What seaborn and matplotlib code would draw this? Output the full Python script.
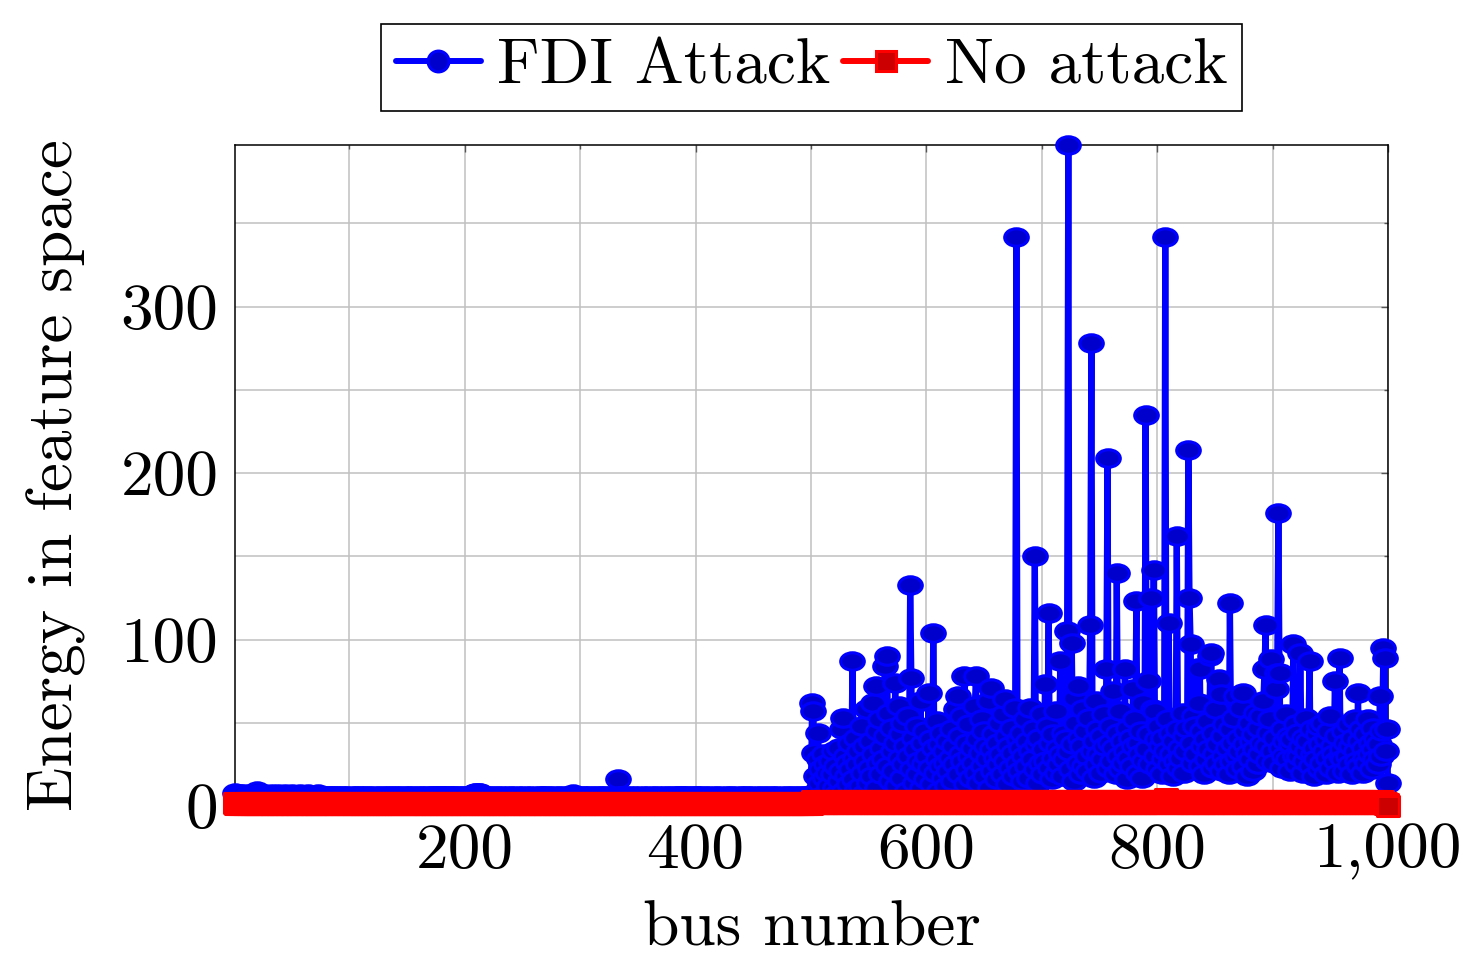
import matplotlib
matplotlib.use("Agg")
import matplotlib.pyplot as plt
import seaborn as sns
import pandas as pd
from matplotlib.path import Path
from matplotlib.transforms import Affine2D
from matplotlib.ticker import MultipleLocator, FuncFormatter
from matplotlib.lines import Line2D

# ---------------- data ----------------
# FDI attack energy, buses 1..500
fdi_low = [
    8,7,6,5,7,6,5,6,7,5,6,5,6,7,6,5,6,7,8,9,
    7,6,5,6,5,6,7,6,5,6,6,5,7,6,5,6,6,7,5,6,
    6,5,6,7,6,5,6,6,5,7,6,5,6,5,6,6,7,5,6,5,
    6,6,5,7,6,5,6,5,6,6,5,6,7,6,5,6,5,6,6,5,
    5,6,6,5,6,5,6,5,6,5,6,5,5,6,5,6,5,6,5,5,
    5,6,5,5,6,5,6,5,6,5,5,6,5,6,5,5,6,5,6,5,
    5,5,6,5,5,6,5,5,6,5,5,6,5,6,5,5,6,5,5,6,
    5,6,5,5,6,5,5,6,5,5,6,5,6,5,5,6,5,5,6,5,
    5,6,5,6,5,5,6,5,5,6,5,6,6,5,6,5,6,6,5,6,
    6,5,6,6,5,6,5,6,5,6,6,5,5,6,5,6,5,5,6,5,
    6,5,6,5,6,6,7,7,8,8,7,8,8,7,6,6,5,6,5,5,
    6,5,5,6,5,5,6,5,5,6,5,5,6,5,5,5,6,5,5,6,
    5,5,6,5,5,5,6,5,5,6,5,5,5,6,5,5,6,5,5,5,
    6,5,5,6,5,5,6,6,5,6,5,5,6,5,6,5,5,5,6,5,
    5,6,5,5,6,5,5,5,6,5,6,6,5,7,6,5,6,5,5,6,
    5,5,6,5,6,5,5,6,5,5,6,5,5,6,5,5,6,5,6,5,
    5,6,5,5,6,5,5,6,5,6,6,6,16,6,6,5,5,6,5,5,
    6,5,5,6,5,5,5,6,5,5,6,5,5,5,6,5,5,6,5,5,
    5,6,5,5,6,5,5,6,5,5,5,6,5,5,6,5,5,6,5,5,
    6,5,5,6,6,5,6,5,6,6,5,6,5,5,6,5,6,5,5,6,
    6,5,6,5,5,6,5,5,6,5,5,6,5,5,5,6,5,5,6,5,
    5,6,5,5,5,6,5,5,6,5,5,6,5,5,6,5,5,5,6,5,
    6,5,5,6,5,6,5,5,6,5,5,5,6,5,5,6,5,5,6,5,
    5,6,5,5,6,5,5,6,5,5,6,5,5,5,6,5,5,6,5,5,
    6,5,5,6,5,5,6,5,5,6,5,5,6,5,6,5,6,5,6,6,
]
# FDI attack energy, buses 501..1000
fdi_high = [
    62,57,32,18,9,44,28,14,22,6,31,17,25,8,20,12,27,5,19,33,
    11,24,7,35,15,21,46,53,9,30,18,26,13,38,22,87,16,29,41,10,
    25,33,12,48,20,7,36,27,58,14,23,39,18,62,31,72,11,45,26,52,
    19,35,28,84,42,90,24,56,15,47,33,21,74,38,12,60,29,43,17,50,
    25,36,9,54,30,133,77,22,41,14,34,48,19,27,63,11,38,25,45,16,
    30,68,23,40,13,104,35,20,51,28,9,37,24,44,17,33,26,12,39,21,
    29,46,15,36,25,58,66,19,42,31,54,27,78,13,38,22,49,30,17,35,
    26,60,78,20,40,14,32,52,24,45,18,36,28,63,11,71,34,21,43,29,
    16,38,25,50,31,19,55,64,27,42,13,36,23,47,32,18,59,342,26,40,
    21,35,44,15,30,52,24,39,17,59,33,28,46,150,22,37,14,41,26,55,
    19,34,73,27,48,116,23,38,16,43,29,57,20,35,25,87,31,18,44,28,
    40,105,397,33,22,98,37,15,65,50,72,26,41,19,36,58,24,45,30,21,
    53,109,278,33,17,39,63,25,46,31,20,42,28,55,36,82,209,23,38,48,
    27,69,35,19,140,44,30,57,22,39,26,82,33,16,47,29,41,24,70,36,
    52,123,20,38,31,45,17,62,27,235,34,75,43,25,125,58,142,57,30,40,
    22,48,36,19,41,28,342,33,52,110,25,44,31,18,39,27,162,46,23,35,
    29,56,20,42,33,47,214,125,97,38,26,54,48,31,83,62,82,24,45,36,
    19,40,28,51,34,90,92,23,44,31,58,26,37,76,67,21,42,30,49,25,
    35,19,122,46,27,38,53,66,30,22,41,33,59,68,24,37,45,18,32,50,
    28,39,21,43,34,56,25,47,31,54,38,63,82,109,36,27,44,52,88,33,
    26,41,70,80,176,80,35,23,46,30,39,55,28,42,21,37,40,97,30,49,
    25,44,30,92,36,20,41,27,53,33,39,87,24,46,31,18,35,28,43,48,
    22,37,26,50,33,19,40,29,45,54,23,36,31,75,27,42,20,89,30,34,
    28,45,21,38,30,49,25,36,19,41,52,33,27,68,24,39,46,20,35,29,
    43,26,52,31,38,22,47,34,28,40,25,37,66,30,45,95,89,33,46,14,
]
# No attack energy, buses 1..1000
no_attack = [
    2,1,2,1,1,2,1,2,1,1,2,1,2,2,1,1,2,1,2,1,1,2,1,1,2,1,2,1,1,2,2,1,1,2,1,2,1,1,2,1,
    1,2,1,2,1,1,2,1,2,1,1,2,2,1,1,2,1,1,2,1,2,1,1,2,1,2,1,1,2,1,1,2,1,2,1,1,2,1,2,1,
    2,1,1,2,1,2,1,1,2,1,2,2,1,1,2,1,2,1,1,2,1,2,1,1,2,1,1,2,1,2,1,1,2,1,2,1,1,2,1,1,
    2,1,2,1,1,2,1,2,1,1,2,1,1,2,1,2,1,1,2,1,2,1,1,2,1,2,2,1,1,2,1,1,2,1,2,1,1,2,1,2,
    1,1,2,1,2,1,1,2,1,2,1,1,2,1,1,2,1,2,1,1,2,1,2,1,1,2,1,1,2,1,2,1,1,2,1,2,1,1,2,1,
    2,1,1,2,1,2,1,1,2,1,2,1,1,2,1,1,2,1,2,1,1,2,1,2,1,1,2,1,1,2,1,2,1,1,2,1,2,1,1,2,
    1,2,1,1,2,1,2,1,1,2,1,1,2,1,2,1,1,2,1,2,1,1,2,1,1,2,1,2,1,1,2,1,2,1,1,2,1,1,2,1,
    2,1,1,2,1,2,1,1,2,1,1,2,1,2,1,1,2,1,2,1,1,2,1,1,2,1,2,1,1,2,1,2,1,1,2,1,1,2,1,2,
    1,1,2,1,2,1,1,2,1,1,2,1,2,1,1,2,1,2,1,1,2,1,1,2,1,2,1,1,2,1,2,1,1,2,1,1,2,1,2,1,
    1,2,1,2,1,1,2,1,1,2,1,2,1,1,2,1,2,1,1,2,1,1,2,1,2,1,1,2,1,2,1,1,2,1,1,2,1,2,1,1,
    2,1,2,1,1,2,1,1,2,1,2,1,1,2,1,2,1,1,2,1,1,2,1,2,1,1,2,1,2,1,1,2,1,1,2,1,2,1,1,2,
    1,2,1,1,2,1,1,2,1,2,1,1,2,1,2,1,1,2,1,1,2,1,2,1,1,2,1,2,1,1,2,1,1,2,1,2,1,1,2,1,
    2,1,2,1,1,2,1,1,2,1,2,1,1,2,1,2,1,1,2,1,2,3,2,3,2,2,3,2,3,2,2,3,2,3,2,2,3,2,2,3,
    2,3,2,2,3,2,3,2,2,3,2,3,3,2,2,3,2,3,2,2,3,2,3,2,2,3,2,3,2,2,3,2,2,3,2,3,2,2,3,2,
    3,2,2,3,2,3,2,2,3,2,3,2,2,3,2,2,3,2,3,2,2,3,2,3,2,2,3,2,2,3,2,3,2,2,3,2,3,2,2,3,
    2,3,2,2,3,2,3,2,2,3,2,2,3,2,3,2,2,3,2,3,2,2,3,2,2,3,2,3,2,2,3,2,3,2,2,3,2,2,3,2,
    3,2,2,3,2,3,2,2,3,2,3,2,2,3,2,2,3,2,3,2,2,3,2,3,2,2,3,2,2,3,2,3,2,2,3,2,3,2,2,3,
    2,3,2,2,3,2,3,2,2,3,2,2,3,2,3,2,2,3,2,3,2,2,3,2,2,3,2,3,2,2,3,2,3,2,2,3,2,2,3,2,
    3,2,2,3,2,3,2,2,3,2,3,2,2,3,2,2,3,2,3,2,2,3,2,3,2,2,3,2,2,3,2,3,2,2,3,2,3,2,2,3,
    2,3,2,2,3,2,3,2,2,3,2,2,3,2,3,2,2,3,2,3,2,2,3,2,2,3,2,3,2,2,3,2,3,2,2,3,2,2,3,2,
    3,2,2,3,2,3,2,4,3,3,2,3,2,2,3,2,2,3,2,3,2,2,3,2,3,2,2,3,2,2,3,2,3,2,2,3,2,3,2,2,
    2,3,2,2,3,2,3,2,2,3,2,2,3,2,3,2,2,3,2,3,2,2,3,2,2,3,2,3,2,2,3,2,3,2,2,3,2,2,3,2,
    3,2,2,3,2,3,2,2,3,2,3,2,2,3,2,2,3,2,3,2,2,3,2,3,2,2,3,2,2,3,2,3,2,2,3,2,3,2,2,3,
    2,3,2,2,3,2,3,2,2,3,2,2,3,2,3,2,2,3,2,3,2,2,3,2,2,3,2,3,2,2,3,2,3,2,2,3,2,2,3,2,
    3,2,2,3,2,3,2,2,3,2,3,2,2,3,2,2,3,2,3,2,2,3,2,3,2,2,3,2,2,3,2,3,2,2,3,2,2,1,1,0,
]
x_ticks = [200, 400, 600, 800, 1000]
y_ticks = [0, 100, 200, 300]
series_names = ["FDI Attack", "No attack"]

fdi = fdi_low + fdi_high
bus_fdi = list(range(1, len(fdi_low) + 1)) + list(range(501, 501 + len(fdi_high)))
bus_no = list(range(1, len(no_attack) + 1))
df_fdi = pd.DataFrame({"bus": bus_fdi, "energy": fdi})
df_no = pd.DataFrame({"bus": bus_no, "energy": no_attack})

# ---------------- style ----------------
sns.set_style("white")
plt.rcParams["font.family"] = ["cmr10"]
plt.rcParams["axes.formatter.use_mathtext"] = True
plt.rcParams["mathtext.fontset"] = "cm"
plt.rcParams["text.color"] = "black"
plt.rcParams["axes.labelcolor"] = "black"

FS = 47
BLUE, BLUE_F = "#0000ff", "#0000cc"
RED, RED_F = "#ff0000", "#cc0000"

ellipse = Path.unit_circle().transformed(Affine2D().scale(1.35, 1.0))
rect = Path([(-1.12, -1), (1.12, -1), (1.12, 1), (-1.12, 1), (-1.12, -1)],
            [Path.MOVETO, Path.LINETO, Path.LINETO, Path.LINETO, Path.CLOSEPOLY])

fig = plt.figure(figsize=(14.71, 9.61), dpi=100)
W, H = 1471, 961
ax = fig.add_axes([235 / W, (H - 806) / H, (1388 - 235) / W, (806 - 145) / H])

sns.lineplot(data=df_fdi, x="bus", y="energy", ax=ax, estimator=None, sort=False,
             legend=False, color=BLUE, linewidth=4.5, marker=ellipse,
             markersize=17, markerfacecolor=BLUE_F, markeredgecolor=BLUE,
             markeredgewidth=2.2, clip_on=False, zorder=3)
sns.lineplot(data=df_no, x="bus", y="energy", ax=ax, estimator=None, sort=False,
             legend=False, color=RED, linewidth=5, marker=rect,
             markersize=16, markerfacecolor=RED_F, markeredgecolor=RED,
             markeredgewidth=2.2, clip_on=False, zorder=4)

ax.set_xlim(1, 1000)
ax.set_ylim(0, 397)
ax.set_xticks(x_ticks)
ax.set_yticks(y_ticks)
ax.xaxis.set_minor_locator(MultipleLocator(100))
ax.yaxis.set_minor_locator(MultipleLocator(50))
ax.xaxis.set_major_formatter(FuncFormatter(lambda v, p: f"{int(round(v)):,}"))
ax.yaxis.set_major_formatter(FuncFormatter(lambda v, p: f"{int(round(v))}"))
ax.grid(True, which="both", color="#c0c0c0", linewidth=1.1)
ax.set_axisbelow(True)
ax.tick_params(which="both", direction="in", top=True, right=True,
               colors="#555555", labelcolor="black", labelsize=FS, width=1.0)
ax.tick_params(which="major", length=5, pad=12)
ax.tick_params(which="minor", length=3)
for s in ax.spines.values():
    s.set_color("black")
    s.set_linewidth(1.1)
    s.set_visible(True)

ax.set_xlabel("bus number", fontsize=FS, labelpad=14)
ax.set_ylabel("Energy in feature space", fontsize=FS, labelpad=25)

handles = [
    Line2D([], [], color=BLUE, lw=4.3, marker="o", markersize=15,
           markerfacecolor=BLUE_F, markeredgecolor=BLUE, markeredgewidth=2.2),
    Line2D([], [], color=RED, lw=4.3, marker="s", markersize=14,
           markerfacecolor=RED_F, markeredgecolor=RED, markeredgewidth=2.2),
]
leg = ax.legend(handles, series_names, loc="lower center",
                bbox_to_anchor=(0.5, 1 + 34 / 661), ncol=2, frameon=True,
                fancybox=False, edgecolor="black", framealpha=1, fontsize=FS,
                handlelength=1.3, handletextpad=0.25, columnspacing=0.2,
                borderpad=0.22, borderaxespad=0)
leg.get_frame().set_linewidth(1.2)

fig.savefig("out.png", dpi=100)
